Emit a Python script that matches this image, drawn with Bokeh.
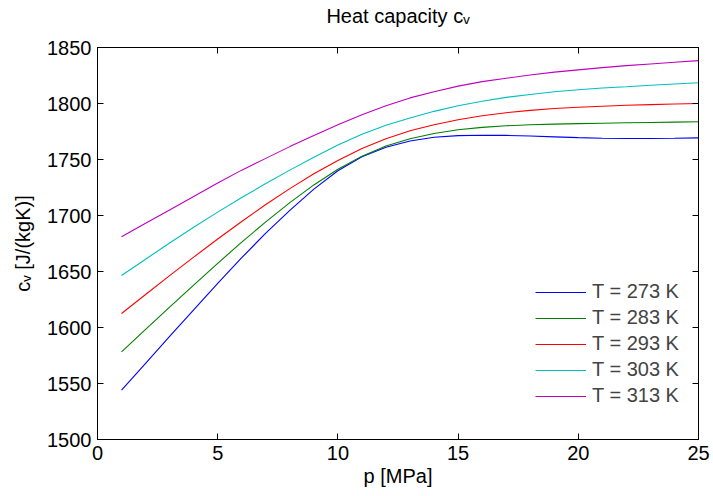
import math
from bokeh.plotting import figure
from bokeh.models import Legend, LegendItem, FixedTicker, Range1d, LinearAxis
from bokeh.embed import file_html
from bokeh.resources import INLINE

pressure = list(range(1, 26))
temps = ["T = 273 K", "T = 283 K", "T = 293 K", "T = 303 K", "T = 313 K"]
cv_273 = [1544, 1568, 1592, 1615.8, 1639.3, 1662.3, 1684.3, 1704.5, 1723.5, 1740, 1752.5, 1761,
          1766.5, 1769.8, 1771.3, 1771.7, 1771.5, 1771, 1770.2, 1769.5, 1769, 1768.8, 1768.8, 1769, 1769.3]
cv_283 = [1578.3, 1598.3, 1618.2, 1637.9, 1657.3, 1676.2, 1694.3, 1711.5, 1727.3, 1741.3, 1753, 1762,
          1768.5, 1773.2, 1776.5, 1778.7, 1780.1, 1781, 1781.6, 1782, 1782.4, 1782.8, 1783.1, 1783.4, 1783.7]
cv_293 = [1612.5, 1629.5, 1646.3, 1662.8, 1679, 1694.7, 1709.8, 1724, 1737.2, 1749.2, 1759.8, 1768.6,
          1775.6, 1781.1, 1785.5, 1789, 1791.8, 1793.9, 1795.5, 1796.7, 1797.6, 1798.4, 1799, 1799.5, 1800]
cv_303 = [1646.5, 1661, 1675.5, 1689.5, 1703, 1716, 1728.5, 1740.5, 1752, 1763, 1772.5, 1780.5,
          1787, 1793, 1798, 1802, 1805.5, 1808, 1810.5, 1812.3, 1813.8, 1815, 1816.3, 1817.4, 1818.5]
cv_313 = [1681, 1693, 1705, 1717, 1729, 1740.5, 1751, 1761.5, 1771.5, 1781, 1790, 1798, 1805,
          1810.5, 1815.5, 1819.5, 1822.5, 1825.5, 1828, 1830, 1832, 1833.8, 1835.3, 1836.8, 1838.3]
series = [cv_273, cv_283, cv_293, cv_303, cv_313]
colors = ["#0000ff", "#008000", "#ff0000", "#00bfbf", "#bf00bf"]

x_ticks = [0, 5, 10, 15, 20, 25]
y_ticks = [1500, 1550, 1600, 1650, 1700, 1750, 1800, 1850]
x_min, x_max = 0, 25
y_min, y_max = 1500, 1850

FONT = "Liberation Sans"
FS = "20px"

p = figure(width=713, height=496, output_backend="svg", toolbar_location=None,
           x_range=Range1d(x_min, x_max), y_range=Range1d(y_min, y_max),
           min_border_left=97, min_border_right=15, min_border_top=47, min_border_bottom=57)
p.title.visible = False
p.grid.visible = False
p.outline_line_color = "black"
p.outline_line_width = 1
p.background_fill_color = "white"
p.border_fill_color = "white"

for ax in (p.xaxis[0], p.yaxis[0]):
    ax.major_tick_in = 6
    ax.major_tick_out = 0
    ax.minor_tick_line_color = None
    ax.major_label_text_font = FONT
    ax.major_label_text_font_size = FS
    ax.major_label_text_color = "black"
    ax.axis_line_color = "black"
    ax.major_tick_line_color = "black"
    ax.major_label_standoff = 6
    ax.axis_label_text_font = FONT
    ax.axis_label_text_font_size = FS
    ax.axis_label_text_font_style = "normal"
    ax.axis_label_text_color = "black"
p.xaxis.ticker = FixedTicker(ticks=x_ticks)
p.yaxis.ticker = FixedTicker(ticks=y_ticks)
p.xaxis.axis_label = "p [MPa]"
p.xaxis.axis_label_standoff = 2
p.yaxis.axis_label = "c\u1d65 [J/(kgK)]"
p.yaxis.axis_label_standoff = 10

# inward ticks on the top and right sides of the box (MATLAB style), no labels
extra = {}
for side, ticks in (("right", y_ticks), ("above", x_ticks)):
    ax = LinearAxis(ticker=FixedTicker(ticks=ticks),
                    major_label_overrides={t: "" for t in ticks},
                    major_tick_in=6, major_tick_out=0, minor_tick_line_color=None,
                    major_label_standoff=0, axis_line_color="black",
                    major_tick_line_color="black")
    p.add_layout(ax, side)
    extra[side] = ax

# chart title carried by the top axis label
top = extra["above"]
top.axis_label = "Heat capacity c\u1d65"
top.axis_label_text_font = FONT
top.axis_label_text_font_size = FS
top.axis_label_text_font_style = "normal"
top.axis_label_text_color = "black"
top.axis_label_standoff = 21

renderers = []
for vals, col in zip(series, colors):
    r = p.line(pressure, vals, line_color=col, line_width=1.1)
    renderers.append(r)

legend = Legend(items=[LegendItem(label=t, renderers=[r]) for t, r in zip(temps, renderers)],
                location=(438, 32), label_text_font=FONT, label_text_font_size=FS,
                glyph_width=51, glyph_height=20, label_height=20, label_standoff=6,
                spacing=3, padding=0, margin=0, border_line_color=None,
                background_fill_alpha=0)
p.add_layout(legend)

open("out.html", "w").write(file_html(p, INLINE))
